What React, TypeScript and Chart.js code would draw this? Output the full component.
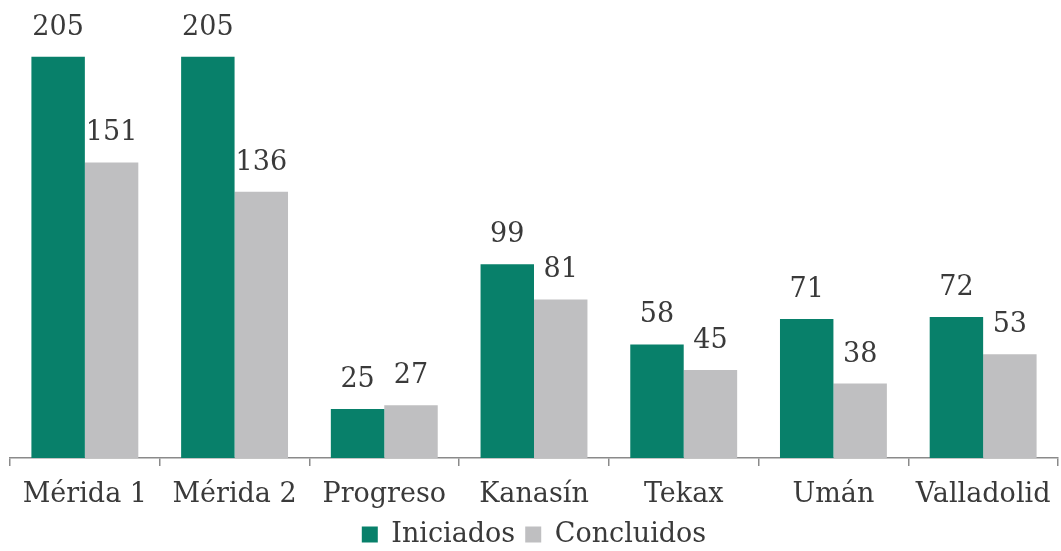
import React, { useEffect, useRef } from "react";
import { Chart, registerables } from "chart.js";

Chart.register(...registerables);

const categories = ["Mérida 1", "Mérida 2", "Progreso", "Kanasín", "Tekax", "Umán", "Valladolid"];
const iniciados = [205, 205, 25, 99, 58, 71, 72];
const concluidos = [151, 136, 27, 81, 45, 38, 53];
const seriesNames = ["Iniciados", "Concluidos"];

const FONT = "'DejaVu Serif', 'Liberation Serif', serif";
const TEXT = "#3a3a3a";

const valueLabels = {
  id: "valueLabels",
  afterDatasetsDraw(chart: any) {
    const ctx = chart.ctx;
    ctx.save();
    ctx.font = `27px ${FONT}`;
    ctx.fillStyle = TEXT;
    ctx.textAlign = "center";
    ctx.textBaseline = "alphabetic";
    chart.data.datasets.forEach((ds: any, di: number) => {
      const meta = chart.getDatasetMeta(di);
      meta.data.forEach((bar: any, i: number) => {
        ctx.fillText(String(ds.data[i]), bar.x, bar.y - 22);
      });
    });
    ctx.restore();
  },
};

export default function App() {
  const ref = useRef<HTMLCanvasElement>(null);
  useEffect(() => {
    if (!ref.current) return;
    const chart = new Chart(ref.current, {
      type: "bar",
      data: {
        labels: categories,
        datasets: [
          { label: seriesNames[0], data: iniciados, backgroundColor: "#08806a", borderWidth: 0 },
          { label: seriesNames[1], data: concluidos, backgroundColor: "#bfbfc1", borderWidth: 0 },
        ],
      },
      options: {
        responsive: false,
        animation: false,
        layout: { padding: { left: 10, right: 3, top: 0, bottom: -7 } },
        datasets: { bar: { categoryPercentage: 0.714, barPercentage: 1.0 } },
        plugins: {
          legend: {
            position: "bottom",
            labels: {
              font: { family: FONT, size: 27 },
              color: TEXT,
              boxWidth: 16,
              boxHeight: 16,
              padding: 10,
            },
          },
          tooltip: { enabled: false },
        },
        scales: {
          x: {
            afterFit: (scale: any) => {
              scale.paddingLeft = 0;
              scale.paddingRight = 0;
              scale.height = 53;
            },
            grid: {
              display: true,
              drawOnChartArea: false,
              drawTicks: true,
              tickLength: 8,
              color: "#8a8a8a",
              lineWidth: 1.5,
            },
            border: { display: true, color: "#8a8a8a", width: 1.5 },
            ticks: {
              font: { family: FONT, size: 27 },
              color: TEXT,
              padding: 13,
              autoSkip: false,
              maxRotation: 0,
              minRotation: 0,
            },
          },
          y: { display: false, min: 0, max: 234 },
        },
      },
      plugins: [valueLabels],
    });
    return () => chart.destroy();
  }, []);
  return (
    <div style={{ position: "fixed", left: 0, top: 0, width: 1061, height: 551, background: "#fff" }}>
      <canvas ref={ref} width={1061} height={551} />
    </div>
  );
}
